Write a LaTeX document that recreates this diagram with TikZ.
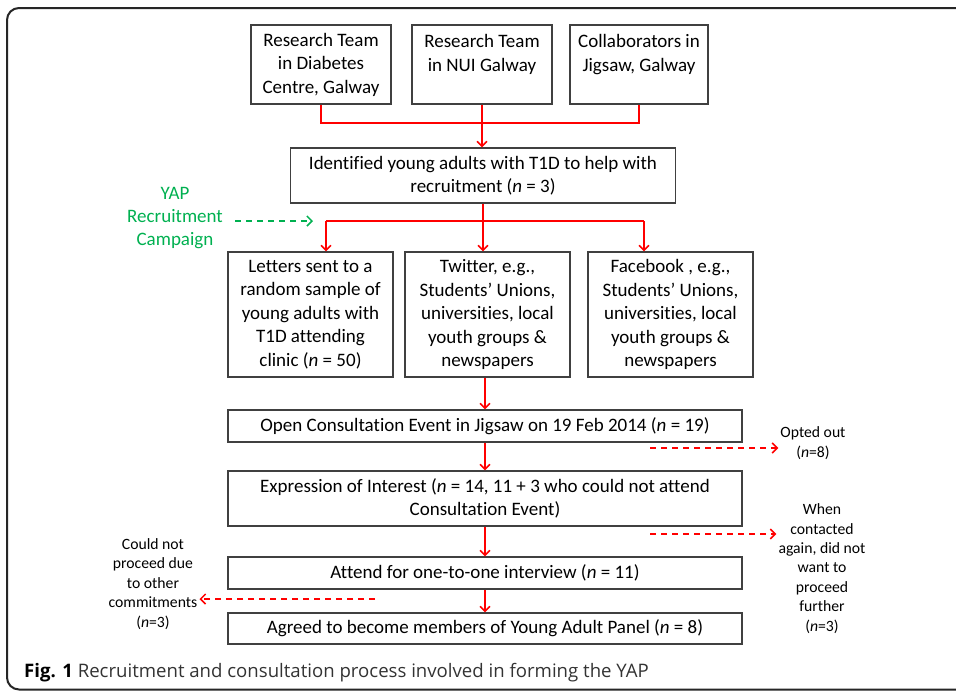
\documentclass[tikz,border=0pt]{standalone}
\usepackage{fontspec}
\setmainfont{Carlito}[Ligatures=NoCommon]
\newfontfamily\capfont{Open Sans}
\usetikzlibrary{arrows.meta}
\definecolor{redl}{HTML}{FF0000}
\definecolor{greenl}{HTML}{00B050}
\definecolor{boxgray}{HTML}{404040}
\begin{document}
\begin{tikzpicture}[x=1pt,y=-1pt,
  box/.style={draw=boxgray, line width=1.3pt, align=center, inner sep=0pt,
    font=\fontsize{19}{23.5}\selectfont},
  side/.style={align=center, inner sep=2pt, font=\fontsize{15.7}{19.4}\selectfont},
  redline/.style={draw=redl, line width=1.5pt},
  redarrow/.style={redline, -{Straight Barb[length=5pt,width=10pt,line width=1.5pt]}},
  reddash/.style={redarrow, dash pattern=on 6pt off 5pt},
  greendash/.style={draw=greenl, line width=1.5pt, dash pattern=on 6pt off 5pt,
    -{Straight Barb[length=5pt,width=10pt,line width=1.5pt]}}]
\useasboundingbox (0,0) rectangle (956,691);
% frame
\draw[line width=2pt, black!85, rounded corners=12pt] (970,8) -- (7,8) -- (7,689.5) -- (970,689.5);
% top boxes
\node[box, minimum width=140, minimum height=79] (a) at (321,64.5) {Research Team\\in Diabetes\\Centre, Galway};
\node[box, minimum width=140, minimum height=79] (b) at (482,64.5) {Research Team\\in NUI Galway\\\mbox{}};
\node[box, minimum width=138, minimum height=79] (c) at (639,64.5) {Collaborators in\\Jigsaw, Galway\\\mbox{}};
\node[box, minimum width=385, minimum height=55] (d) at (483,175.5) {Identified young adults with T1D to help with\\recruitment (\textit{n} = 3)};
\node[box, minimum width=165, minimum height=125] (e) at (310.5,314.5) {Letters sent to a\\random sample of\\young adults with\\T1D attending\\clinic (\textit{n} = 50)};
\node[box, minimum width=165, minimum height=125] (f) at (487.5,314.5) {Twitter, e.g.,\\Students’ Unions,\\universities, local\\youth groups \&\\newspapers};
\node[box, minimum width=165, minimum height=125] (g) at (670.5,314.5) {Facebook , e.g.,\\Students’ Unions,\\universities, local\\youth groups \&\\newspapers};
\node[box, minimum width=514, minimum height=32] (h) at (485,426) {Open Consultation Event in Jigsaw on 19 Feb 2014 (\textit{n} = 19)};
\node[box, minimum width=514, minimum height=55] (i) at (485,498.5) {Expression of Interest (\textit{n} = 14, 11 + 3 who could not attend\\Consultation Event)};
\node[box, minimum width=514, minimum height=32] (j) at (485,573) {Attend for one-to-one interview (\textit{n} = 11)};
\node[box, minimum width=514, minimum height=31] (k) at (485,628.5) {Agreed to become members of Young Adult Panel (\textit{n} = 8)};
% side texts
\node[align=center, inner sep=2pt, text=greenl, font=\fontsize{19}{23.3}\selectfont] (yap) at (175,218) {YAP\\Recruitment\\Campaign};
\node[side] (opt) at (813,443) {Opted out\\(\textit{n}=8)};
\node[side] (when) at (822,568.5) {When\\contacted\\again, did not\\want to\\proceed\\further\\(\textit{n}=3)};
\node[side] (could) at (153,584) {Could not\\proceed due\\to other\\commitments\\(\textit{n}=3)};
% caption
\node[anchor=west, inner sep=0pt, font=\capfont\fontsize{18.6}{22}\selectfont] (cap) at (24,673) {\textbf{Fig. 1} \textcolor{black!80}{Recruitment and consultation process involved in forming the YAP}};
% coordinates
\coordinate (t1) at (321,123);
\coordinate (bl) at (326,221);
\coordinate (br) at (644,221);
\coordinate (gs) at (235,221);
\coordinate (ge) at (313,221);
\coordinate (o1) at (650,448);
\coordinate (w1) at (650,534);
\coordinate (c1) at (375,599);
% connectors
\draw[redline] (a.south) -- (t1) -| (c.south);
\draw[redarrow] (b.south) -- (b.south |- d.north);
\draw[redline] (d.south) -- (d.south |- bl);
\draw[redline] (bl) -- (br);
\draw[redarrow] (bl) -- (bl |- e.north);
\draw[redarrow] (d.south |- bl) -- (d.south |- f.north);
\draw[redarrow] (br) -- (br |- g.north);
\draw[redarrow] (f.south -| h.north) -- (h.north);
\draw[redarrow] (h.south) -- (i.north);
\draw[redarrow] (i.south) -- (j.north);
\draw[redarrow] (j.south) -- (k.north);
\draw[greendash] (gs) -- (ge);
\draw[reddash] (o1) -- (o1 -| opt.west);
\draw[reddash] (w1) -- (w1 -| when.west);
\draw[reddash] (c1) -- (c1 -| could.east);
\end{tikzpicture}
\end{document}
